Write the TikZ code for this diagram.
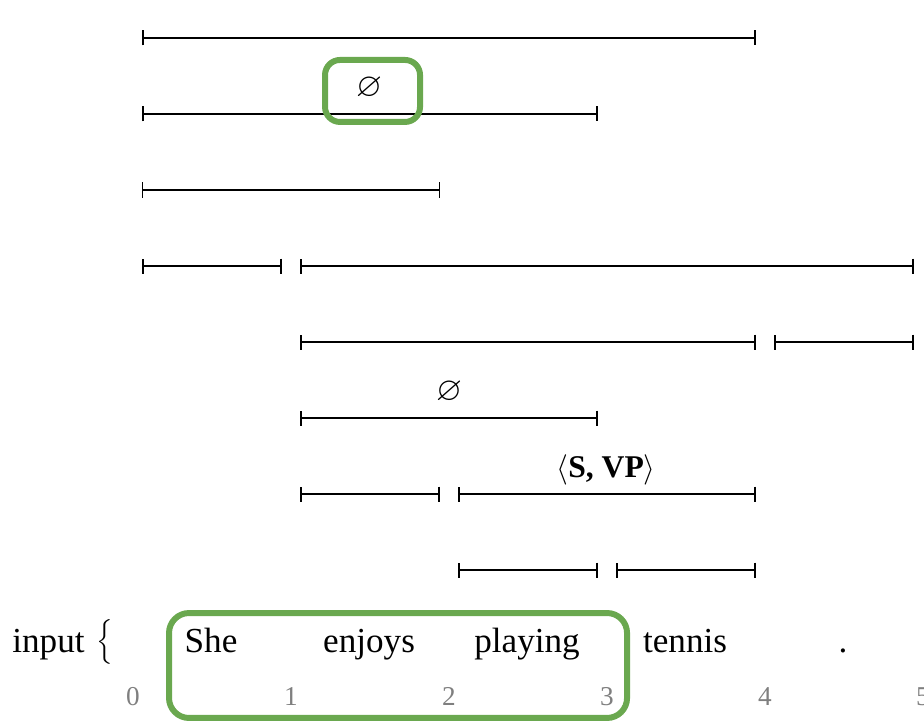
\documentclass[tikz,border=0pt]{standalone}
\usepackage{fontspec}
\usepackage{amssymb}
\setmainfont{Liberation Serif}
\usetikzlibrary{arrows.meta}

\definecolor{hlgreen}{HTML}{6AA84F}
\definecolor{idxgray}{HTML}{7F7F7F}

\tikzset{
  spanbar/.style={line width=1.1pt, {Bar[width=0.3cm]}-{Bar[width=0.3cm]}},
  token/.style={anchor=base, inner sep=0pt, font=\fontsize{20}{24}\selectfont},
  index/.style={inner sep=0pt, text=idxgray, font=\fontsize{15.5}{18}\selectfont},
  spanlabel/.style={inner sep=0pt, font=\fontsize{18}{21}\selectfont\bfseries},
  nulllabel/.style={inner sep=0pt, font=\fontsize{19}{21}\selectfont},
  markbox/.style={draw=hlgreen, line width=3.4pt, rounded corners=0.3cm},
}

\begin{document}
\begin{tikzpicture}[x=3.16cm, y=1.52cm]
\useasboundingbox (-142/158,-2/76) rectangle (782/158,722/76);

% Chart rows: row / from / to
\foreach \r/\i/\j in {9/0/4, 8/0/3, 6/0/1, 6/1/5, 5/1/4, 5/4/5,
                      4/1/3, 3/1/2, 3/2/4, 2/2/3, 2/3/4}
  \draw[spanbar] (\i,\r) -- (\j-0.114,\r);
\draw[spanbar, line width=0.7pt] (0,7) -- (2-0.114,7);

% Span labels
\node[nulllabel] (null1) at (1.437, 8.342) {$\varnothing$};
\node[nulllabel] (null2) at (1.943, 4.342) {$\varnothing$};
\node[spanlabel] (svp) at (2.937, 3.316) {$\langle$S, VP$\rangle$};

% Highlights
\node[markbox, minimum width=1.9cm, minimum height=1.24cm] (hlnull) at (1.459, 8.303) {};
\draw[markbox, rounded corners=0.4cm] (0.171,0.053) rectangle (3.070,1.434);

% Input sentence and positions
\node[token, anchor=base east] (inp) at (-0.361, 0.92) {input};
\node[inner sep=0pt, font=\fontsize{14.2}{17}\selectfont] (brace) at (-0.234, 1.05) {$\bigg\{$};
\foreach \w [count=\k from 0] in {She, enjoys, playing, tennis, .}
  \node[token] (w\k) at (\k+0.437, 0.92) {\w};
\foreach \k in {0,...,5}
  \node[index] (n\k) at (\k-0.057, 0.33) {\k};

\end{tikzpicture}
\end{document}
